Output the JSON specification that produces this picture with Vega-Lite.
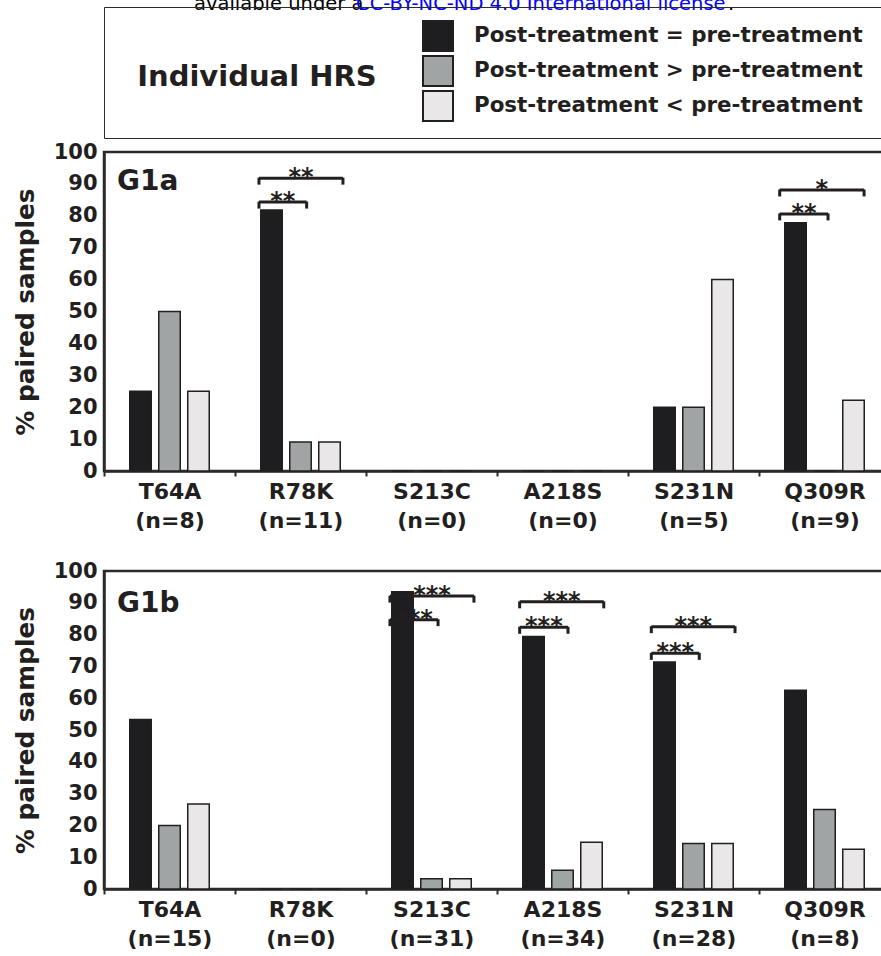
{
  "$schema": "https://vega.github.io/schema/vega-lite/v6.json",
  "bounds": "flush",
  "spacing": 100,
  "padding": {"left": 11, "right": 0, "top": -8, "bottom": 0},
  "background": "white",
  "config": {
    "font": "DejaVu Sans",
    "view": {"stroke": "#2b2b2b", "strokeWidth": 2.5},
    "axis": {
      "labelFont": "DejaVu Sans", "labelFontWeight": "bold", "labelColor": "#231f20",
      "titleFont": "DejaVu Sans", "titleFontWeight": "bold", "titleColor": "#231f20",
      "domainColor": "#2b2b2b", "domainWidth": 2.5, "tickColor": "#2b2b2b", "tickWidth": 2,
      "grid": false, "labelOverlap": false, "labelBound": false, "labelFlush": false
    },
    "axisX": {"labelFontSize": 22, "labelPadding": 5, "labelLineHeight": 29, "tickSize": 5, "labelAngle": 0},
    "axisY": {"ticks": false, "tickCount": 11, "labelFontSize": 21, "labelPadding": 7, "titleFontSize": 24.8, "titlePadding": 15}
  },
  "datasets": {
    "bars1": [
      {"site": "T64A (n=8)", "change": "Post-treatment = pre-treatment", "pct": 25},
      {"site": "T64A (n=8)", "change": "Post-treatment > pre-treatment", "pct": 50},
      {"site": "T64A (n=8)", "change": "Post-treatment < pre-treatment", "pct": 25},
      {"site": "R78K (n=11)", "change": "Post-treatment = pre-treatment", "pct": 81.8},
      {"site": "R78K (n=11)", "change": "Post-treatment > pre-treatment", "pct": 9.1},
      {"site": "R78K (n=11)", "change": "Post-treatment < pre-treatment", "pct": 9.1},
      {"site": "S213C (n=0)", "change": "Post-treatment = pre-treatment", "pct": 0},
      {"site": "S213C (n=0)", "change": "Post-treatment > pre-treatment", "pct": 0},
      {"site": "S213C (n=0)", "change": "Post-treatment < pre-treatment", "pct": 0},
      {"site": "A218S (n=0)", "change": "Post-treatment = pre-treatment", "pct": 0},
      {"site": "A218S (n=0)", "change": "Post-treatment > pre-treatment", "pct": 0},
      {"site": "A218S (n=0)", "change": "Post-treatment < pre-treatment", "pct": 0},
      {"site": "S231N (n=5)", "change": "Post-treatment = pre-treatment", "pct": 20},
      {"site": "S231N (n=5)", "change": "Post-treatment > pre-treatment", "pct": 20},
      {"site": "S231N (n=5)", "change": "Post-treatment < pre-treatment", "pct": 60},
      {"site": "Q309R (n=9)", "change": "Post-treatment = pre-treatment", "pct": 77.8},
      {"site": "Q309R (n=9)", "change": "Post-treatment > pre-treatment", "pct": 0},
      {"site": "Q309R (n=9)", "change": "Post-treatment < pre-treatment", "pct": 22.2}
    ],
    "bars2": [
      {"site": "T64A (n=15)", "change": "Post-treatment = pre-treatment", "pct": 53.3},
      {"site": "T64A (n=15)", "change": "Post-treatment > pre-treatment", "pct": 20},
      {"site": "T64A (n=15)", "change": "Post-treatment < pre-treatment", "pct": 26.7},
      {"site": "R78K (n=0)", "change": "Post-treatment = pre-treatment", "pct": 0},
      {"site": "R78K (n=0)", "change": "Post-treatment > pre-treatment", "pct": 0},
      {"site": "R78K (n=0)", "change": "Post-treatment < pre-treatment", "pct": 0},
      {"site": "S213C (n=31)", "change": "Post-treatment = pre-treatment", "pct": 93.5},
      {"site": "S213C (n=31)", "change": "Post-treatment > pre-treatment", "pct": 3.2},
      {"site": "S213C (n=31)", "change": "Post-treatment < pre-treatment", "pct": 3.2},
      {"site": "A218S (n=34)", "change": "Post-treatment = pre-treatment", "pct": 79.4},
      {"site": "A218S (n=34)", "change": "Post-treatment > pre-treatment", "pct": 5.9},
      {"site": "A218S (n=34)", "change": "Post-treatment < pre-treatment", "pct": 14.7},
      {"site": "S231N (n=28)", "change": "Post-treatment = pre-treatment", "pct": 71.4},
      {"site": "S231N (n=28)", "change": "Post-treatment > pre-treatment", "pct": 14.3},
      {"site": "S231N (n=28)", "change": "Post-treatment < pre-treatment", "pct": 14.3},
      {"site": "Q309R (n=8)", "change": "Post-treatment = pre-treatment", "pct": 62.5},
      {"site": "Q309R (n=8)", "change": "Post-treatment > pre-treatment", "pct": 25},
      {"site": "Q309R (n=8)", "change": "Post-treatment < pre-treatment", "pct": 12.5}
    ],
    "brk1": [
      {"x1": 1.183, "x2": 1.547, "xm": 1.365, "y": 84.3, "stars": "**"},
      {"x1": 1.183, "x2": 1.824, "xm": 1.504, "y": 91.8, "stars": "**"},
      {"x1": 5.158, "x2": 5.527, "xm": 5.343, "y": 80.6, "stars": "**"},
      {"x1": 5.158, "x2": 5.802, "xm": 5.48, "y": 88.1, "stars": "*"}
    ],
    "brk2": [
      {"x1": 2.183, "x2": 2.55, "xm": 2.367, "y": 84.7, "stars": "***"},
      {"x1": 2.183, "x2": 2.824, "xm": 2.504, "y": 92.1, "stars": "***"},
      {"x1": 3.173, "x2": 3.542, "xm": 3.358, "y": 82.3, "stars": "***"},
      {"x1": 3.173, "x2": 3.815, "xm": 3.494, "y": 90.3, "stars": "***"},
      {"x1": 4.178, "x2": 4.544, "xm": 4.361, "y": 74.1, "stars": "***"},
      {"x1": 4.178, "x2": 4.817, "xm": 4.498, "y": 82.5, "stars": "***"}
    ],
    "tag1": [{"tag": "G1a", "x": 0.099, "y": 88.1}],
    "tag2": [{"tag": "G1b", "x": 0.099, "y": 87.2}],
    "hdrPlain": [
      {"t": "available under a", "x": 0.687, "y": 144.5},
      {"t": ".", "x": 4.763, "y": 144.5}
    ],
    "hdrLink": [
      {"t": "CC-BY-NC-ND 4.0 International license", "x": 1.924, "y": 144.5}
    ]
  },
  "resolve": {"scale": {"x": "independent", "color": "independent"}, "legend": {"color": "independent"}},
  "vconcat": [
    {
      "width": 786,
      "height": 319,
      "resolve": {"scale": {"x": "independent"}},
      "layer": [
        {
          "data": {"name": "bars1"},
          "mark": {"type": "bar", "stroke": "#231f20", "strokeWidth": 1.5},
          "encoding": {
            "x": {"field": "site", "type": "nominal", "sort": null, "title": null,
              "scale": {"paddingInner": 0, "paddingOuter": 0},
              "axis": {"tickBand": "extent", "labelExpr": "datum.value ? split(datum.value, ' ') : ''"}},
            "xOffset": {"field": "change", "type": "nominal", "sort": null,
              "scale": {"domain": ["Post-treatment = pre-treatment", "Post-treatment > pre-treatment", "Post-treatment < pre-treatment"], "paddingInner": 0.259, "paddingOuter": 0.888}},
            "y": {"field": "pct", "type": "quantitative", "title": "% paired samples",
              "scale": {"domain": [0, 100], "nice": false},
              "axis": {"values": [0, 10, 20, 30, 40, 50, 60, 70, 80, 90, 100]}},
            "color": {"field": "change", "type": "nominal",
              "scale": {"domain": ["Post-treatment = pre-treatment", "Post-treatment > pre-treatment", "Post-treatment < pre-treatment"], "range": ["#1e1d1f", "#a1a4a5", "#e9e7e8"]},
              "legend": {
                "title": "\u200b\u00a0\u00a0Individual HRS", "orient": "none", "legendX": 0, "legendY": -145, "direction": "vertical",
                "titleOrient": "left", "titleAnchor": "middle", "titleBaseline": "middle", "titleLimit": 0,
                "titleFontSize": 29, "titleFontWeight": "bold", "titleColor": "#231f20", "titlePadding": 45,
                "symbolType": "square", "symbolSize": 900, "symbolStrokeColor": "#231f20", "symbolStrokeWidth": 2, "symbolOpacity": 1,
                "labelFontSize": 21.4, "labelFontWeight": "bold", "labelColor": "#231f20", "labelOffset": 20, "labelLimit": 0,
                "rowPadding": -3, "padding": 13, "strokeColor": "#2b2b2b",
                "labelExpr": "datum.label + '\u00a0\u00a0\u200b'",
                "encode": {"title": {"update": {"dy": {"value": 4}}}},
                "values": ["Post-treatment = pre-treatment", "Post-treatment > pre-treatment", "Post-treatment < pre-treatment"]
              }}
          }
        },
        {
          "layer": [
            {
              "data": {"name": "brk1"},
              "mark": {"type": "rule", "color": "#231f20", "strokeWidth": 3},
              "encoding": {
                "x": {"field": "x1", "type": "quantitative", "scale": {"domain": [0, 6], "nice": false, "zero": false}, "axis": null},
                "x2": {"field": "x2"},
                "y": {"field": "y", "type": "quantitative", "title": "% paired samples", "scale": {"domain": [0, 100], "nice": false}}
              }
            },
            {
              "data": {"name": "brk1"},
              "mark": {"type": "tick", "orient": "vertical", "size": 7, "thickness": 3, "yOffset": 3, "color": "#231f20", "opacity": 1},
              "encoding": {
                "x": {"field": "x1", "type": "quantitative", "axis": null},
                "y": {"field": "y", "type": "quantitative", "title": "% paired samples"}
              }
            },
            {
              "data": {"name": "brk1"},
              "mark": {"type": "tick", "orient": "vertical", "size": 7, "thickness": 3, "yOffset": 3, "color": "#231f20", "opacity": 1},
              "encoding": {
                "x": {"field": "x2", "type": "quantitative", "axis": null},
                "y": {"field": "y", "type": "quantitative", "title": "% paired samples"}
              }
            },
            {
              "data": {"name": "brk1"},
              "mark": {"type": "text", "fontSize": 24, "fontWeight": "bold", "baseline": "alphabetic", "dy": 7, "color": "#231f20"},
              "encoding": {
                "x": {"field": "xm", "type": "quantitative", "axis": null},
                "y": {"field": "y", "type": "quantitative", "title": "% paired samples"},
                "text": {"field": "stars"}
              }
            },
            {
              "data": {"name": "tag1"},
              "mark": {"type": "text", "fontSize": 28, "fontWeight": "bold", "align": "left", "baseline": "alphabetic", "color": "#231f20"},
              "encoding": {
                "x": {"field": "x", "type": "quantitative", "axis": null},
                "y": {"field": "y", "type": "quantitative", "title": "% paired samples"},
                "text": {"field": "tag"}
              }
            },
            {
              "data": {"name": "hdrPlain"},
              "mark": {"type": "text", "fontSize": 19.5, "align": "left", "baseline": "alphabetic", "color": "#000000"},
              "encoding": {
                "x": {"field": "x", "type": "quantitative", "axis": null},
                "y": {"field": "y", "type": "quantitative", "title": "% paired samples"},
                "text": {"field": "t"}
              }
            },
            {
              "data": {"name": "hdrLink"},
              "mark": {"type": "text", "fontSize": 19.5, "align": "left", "baseline": "alphabetic", "color": "#0000ff"},
              "encoding": {
                "x": {"field": "x", "type": "quantitative", "axis": null},
                "y": {"field": "y", "type": "quantitative", "title": "% paired samples"},
                "text": {"field": "t"}
              }
            }
          ]
        }
      ]
    },
    {
      "width": 786,
      "height": 318,
      "resolve": {"scale": {"x": "independent"}},
      "layer": [
        {
          "data": {"name": "bars2"},
          "mark": {"type": "bar", "stroke": "#231f20", "strokeWidth": 1.5},
          "encoding": {
            "x": {"field": "site", "type": "nominal", "sort": null, "title": null,
              "scale": {"paddingInner": 0, "paddingOuter": 0},
              "axis": {"tickBand": "extent", "labelExpr": "datum.value ? split(datum.value, ' ') : ''"}},
            "xOffset": {"field": "change", "type": "nominal", "sort": null,
              "scale": {"domain": ["Post-treatment = pre-treatment", "Post-treatment > pre-treatment", "Post-treatment < pre-treatment"], "paddingInner": 0.259, "paddingOuter": 0.888}},
            "y": {"field": "pct", "type": "quantitative", "title": "% paired samples",
              "scale": {"domain": [0, 100], "nice": false},
              "axis": {"values": [0, 10, 20, 30, 40, 50, 60, 70, 80, 90, 100]}},
            "color": {"field": "change", "type": "nominal",
              "scale": {"domain": ["Post-treatment = pre-treatment", "Post-treatment > pre-treatment", "Post-treatment < pre-treatment"], "range": ["#1e1d1f", "#a1a4a5", "#e9e7e8"]},
              "legend": null}
          }
        },
        {
          "layer": [
            {
              "data": {"name": "brk2"},
              "mark": {"type": "rule", "color": "#231f20", "strokeWidth": 3},
              "encoding": {
                "x": {"field": "x1", "type": "quantitative", "scale": {"domain": [0, 6], "nice": false, "zero": false}, "axis": null},
                "x2": {"field": "x2"},
                "y": {"field": "y", "type": "quantitative", "title": "% paired samples", "scale": {"domain": [0, 100], "nice": false}}
              }
            },
            {
              "data": {"name": "brk2"},
              "mark": {"type": "tick", "orient": "vertical", "size": 7, "thickness": 3, "yOffset": 3, "color": "#231f20", "opacity": 1},
              "encoding": {
                "x": {"field": "x1", "type": "quantitative", "axis": null},
                "y": {"field": "y", "type": "quantitative", "title": "% paired samples"}
              }
            },
            {
              "data": {"name": "brk2"},
              "mark": {"type": "tick", "orient": "vertical", "size": 7, "thickness": 3, "yOffset": 3, "color": "#231f20", "opacity": 1},
              "encoding": {
                "x": {"field": "x2", "type": "quantitative", "axis": null},
                "y": {"field": "y", "type": "quantitative", "title": "% paired samples"}
              }
            },
            {
              "data": {"name": "brk2"},
              "mark": {"type": "text", "fontSize": 24, "fontWeight": "bold", "baseline": "alphabetic", "dy": 7, "color": "#231f20"},
              "encoding": {
                "x": {"field": "xm", "type": "quantitative", "axis": null},
                "y": {"field": "y", "type": "quantitative", "title": "% paired samples"},
                "text": {"field": "stars"}
              }
            },
            {
              "data": {"name": "tag2"},
              "mark": {"type": "text", "fontSize": 28, "fontWeight": "bold", "align": "left", "baseline": "alphabetic", "color": "#231f20"},
              "encoding": {
                "x": {"field": "x", "type": "quantitative", "axis": null},
                "y": {"field": "y", "type": "quantitative", "title": "% paired samples"},
                "text": {"field": "tag"}
              }
            }
          ]
        }
      ]
    }
  ]
}
